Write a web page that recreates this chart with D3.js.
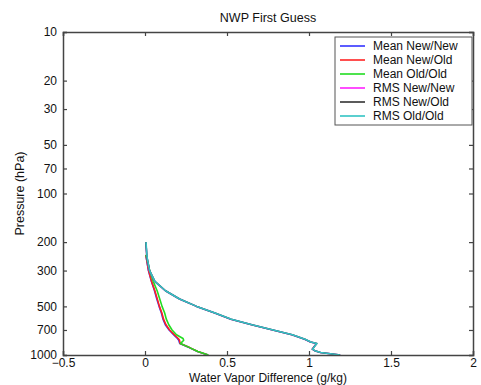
<!DOCTYPE html>
<html>
<head>
<meta charset="utf-8">
<script src="https://cdn.jsdelivr.net/npm/d3@7"></script>
<style>
  body { margin: 0; background: #fff; }
  text { font-family: "Liberation Sans", Arial, sans-serif; }
</style>
</head>
<body>
<div id="chart"></div>
<script>
// pressure levels (hPa)
const meanLevels = [240, 300, 350, 400, 450, 500, 550, 600, 650, 700, 750, 790, 810, 850, 900, 950, 1000];
const rmsLevels = [200, 250, 300, 350, 400, 450, 500, 550, 600, 650, 700, 750, 800, 830, 850, 880, 920, 940, 965, 1000];

// water vapor differences (g/kg)
const meanNewNew = [0.005, 0.021, 0.039, 0.058, 0.072, 0.086, 0.1, 0.11, 0.124, 0.147, 0.176, 0.198, 0.206, 0.212, 0.27, 0.32, 0.385];
const meanNewOld = [0.005, 0.022, 0.04, 0.06, 0.075, 0.088, 0.103, 0.113, 0.128, 0.15, 0.18, 0.203, 0.21, 0.215, 0.272, 0.322, 0.385];
const meanOldOld = [0.006, 0.028, 0.05, 0.074, 0.09, 0.104, 0.12, 0.13, 0.145, 0.165, 0.192, 0.232, 0.236, 0.216, 0.272, 0.322, 0.386];
const rmsNewNew = [0.005, 0.012, 0.027, 0.059, 0.124, 0.21, 0.314, 0.425, 0.523, 0.65, 0.778, 0.895, 0.973, 1.008, 1.045, 1.034, 1.02, 1.034, 1.07, 1.19];
const rmsNewOld = [0.005, 0.012, 0.028, 0.06, 0.125, 0.211, 0.315, 0.426, 0.525, 0.651, 0.78, 0.897, 0.975, 1.01, 1.047, 1.035, 1.02, 1.035, 1.07, 1.19];
const rmsOldOld = [0.006, 0.013, 0.028, 0.06, 0.125, 0.211, 0.315, 0.427, 0.526, 0.652, 0.781, 0.898, 0.976, 1.011, 1.048, 1.036, 1.021, 1.036, 1.071, 1.19];

const seriesNames = ["Mean New/New", "Mean New/Old", "Mean Old/Old", "RMS New/New", "RMS New/Old", "RMS Old/Old"];
const seriesColors = ["#3333ff", "#ff2222", "#22dd22", "#ff22ff", "#333333", "#33c4c4"];
const seriesValues = [meanNewNew, meanNewOld, meanOldOld, rmsNewNew, rmsNewOld, rmsOldOld];
const seriesLevels = [meanLevels, meanLevels, meanLevels, rmsLevels, rmsLevels, rmsLevels];

const xTicks = [-0.5, 0, 0.5, 1, 1.5, 2];
const yTicks = [10, 20, 30, 50, 70, 100, 200, 300, 500, 700, 1000];

let margin = { top: 32, right: 8, bottom: 30, left: 63 };
let width = 481 - margin.left - margin.right;
let height = 385 - margin.top - margin.bottom;

let x = d3.scaleLinear().domain([-0.5, 2]).range([0, width]);
let y = d3.scaleLog().domain([10, 1000]).range([0, height]);

let svg = d3
  .select("#chart")
  .append("svg")
  .attr("width", 481)
  .attr("height", 385);

let g = svg
  .append("g")
  .attr("transform", "translate(" + margin.left + "," + margin.top + ")");

let axisColor = "#444";
let fontSize = 12;

// lines
let line = d3.line();
seriesValues.forEach(function (vals, k) {
  let pts = vals.map((v, i) => [x(v), y(seriesLevels[k][i])]);
  g.append("path")
    .attr("d", line(pts))
    .attr("fill", "none")
    .attr("stroke", seriesColors[k])
    .attr("stroke-width", 1.6)
    .attr("stroke-linejoin", "round");
});

// axes: ticks inward on all four sides
let bottomAxis = g.append("g").attr("transform", `translate(0,${height})`)
  .call(d3.axisBottom(x).tickValues(xTicks).tickSize(-4).tickPadding(4).tickFormat(d3.format("")));
let topAxis = g.append("g")
  .call(d3.axisTop(x).tickValues(xTicks).tickSize(-4).tickFormat(""));
let leftAxis = g.append("g")
  .call(d3.axisLeft(y).tickValues(yTicks).tickSize(-4).tickPadding(6).tickFormat(d3.format("d")));
let rightAxis = g.append("g").attr("transform", `translate(${width},0)`)
  .call(d3.axisRight(y).tickValues(yTicks).tickSize(-4).tickFormat(""));

[bottomAxis, topAxis, leftAxis, rightAxis].forEach(function (a) {
  a.select(".domain").attr("stroke", axisColor).attr("stroke-width", 1.5);
  a.selectAll(".tick line").attr("stroke", axisColor).attr("stroke-width", 1.2);
  a.selectAll("text")
    .attr("font-size", fontSize)
    .attr("font-family", "Liberation Sans, Arial, sans-serif")
    .attr("fill", "#111");
});
bottomAxis.selectAll("text").attr("dy", "0.65em");

// title and axis labels
svg.append("text")
  .attr("x", margin.left + width / 2)
  .attr("y", 22)
  .attr("text-anchor", "middle")
  .attr("font-size", 12.5)
  .attr("fill", "#111")
  .text("NWP First Guess");

svg.append("text")
  .attr("x", margin.left + width / 2)
  .attr("y", 382)
  .attr("text-anchor", "middle")
  .attr("font-size", fontSize)
  .attr("fill", "#111")
  .text("Water Vapor Difference (g/kg)");

svg.append("text")
  .attr("transform", `translate(24,${margin.top + height / 2})rotate(-90)`)
  .attr("text-anchor", "middle")
  .attr("font-size", 12.5)
  .attr("fill", "#111")
  .text("Pressure (hPa)");

// legend
let legend = g.append("g").attr("transform", `translate(${width - 138},5)`);
legend.append("rect")
  .attr("width", 137)
  .attr("height", 88)
  .attr("fill", "#fff")
  .attr("stroke", "#555")
  .attr("stroke-width", 1);
seriesNames.forEach(function (name, k) {
  let yy = 9 + k * 14;
  legend.append("line")
    .attr("x1", 5).attr("x2", 30)
    .attr("y1", yy).attr("y2", yy)
    .attr("stroke", seriesColors[k])
    .attr("stroke-width", 1.6);
  legend.append("text")
    .attr("x", 38)
    .attr("y", yy)
    .attr("dy", "0.35em")
    .attr("font-size", fontSize)
    .attr("fill", "#111")
    .text(name);
});
</script>
</body>
</html>
